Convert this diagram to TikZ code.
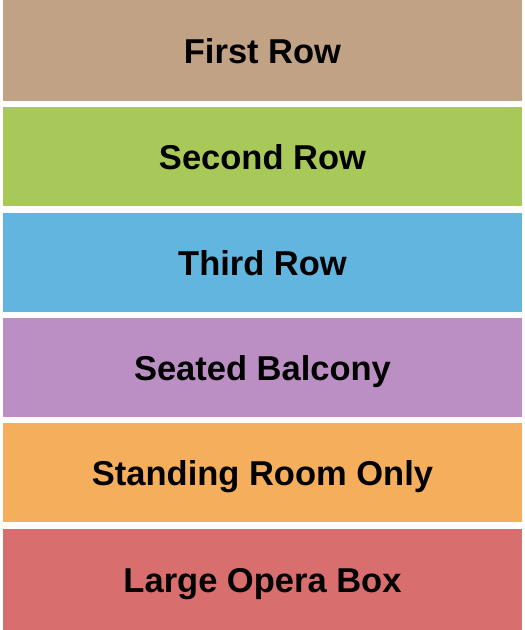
\documentclass[tikz,border=0pt]{standalone}
\usepackage{fontspec}
\setmainfont{Liberation Sans}
\definecolor{rowA}{HTML}{C2A285}
\definecolor{rowB}{HTML}{A8C95A}
\definecolor{rowC}{HTML}{62B5DF}
\definecolor{rowD}{HTML}{BB8FC3}
\definecolor{rowE}{HTML}{F4AE5C}
\definecolor{rowF}{HTML}{D86E6E}
\begin{document}
\begin{tikzpicture}[x=1pt,y=-1pt]

\tikzstyle{section}=[shape=rectangle, draw=none, inner sep=0pt,
    minimum width=519pt, text height=24.5pt, text depth=0pt,
    font=\fontsize{34.5}{40}\selectfont\bfseries]
\tikzstyle{caption}=[inner sep=0pt, text height=24.5pt, text depth=0pt,
    font=\fontsize{34.5}{40}\selectfont\bfseries]

  \useasboundingbox[fill=white] (0,0) rectangle (525,630);

  \node[section, fill=rowA, minimum height=101pt] (firstRow) at (262.5,50.5) {};
  \node[section, fill=rowB, minimum height=99pt] (secondRow) at (262.5,156.5) {};
  \node[section, fill=rowC, minimum height=99pt] (thirdRow) at (262.5,262) {};
  \node[section, fill=rowD, minimum height=98.5pt] (seatedBalcony) at (262.5,367.25) {};
  \node[section, fill=rowE, minimum height=99pt] (standingRoom) at (262.5,472.5) {};
  \node[section, fill=rowF, minimum height=101pt] (operaBox) at (262.5,579.5) {};

  % labels
  \node[caption, yshift=-1pt] (firstRowText) at (firstRow) {First Row};
  \node[caption, yshift=-1pt] (secondRowText) at (secondRow) {Second Row};
  \node[caption, yshift=-1pt] (thirdRowText) at (thirdRow) {Third Row};
  \node[caption, yshift=-1pt] (seatedBalconyText) at (seatedBalcony) {Seated Balcony};
  \node[caption, yshift=-1pt] (standingRoomText) at (standingRoom) {Standing Room Only};
  \node[caption, yshift=-1pt] (operaBoxText) at (operaBox) {Large Opera Box};

\end{tikzpicture}
\end{document}
